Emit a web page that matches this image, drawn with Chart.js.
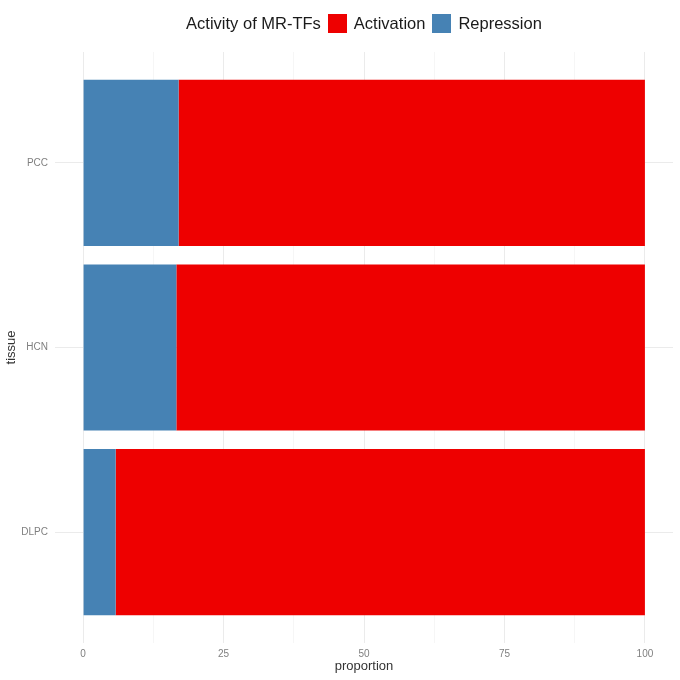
<!DOCTYPE html>
<html>
<head>
<meta charset="utf-8">
<script src="https://cdn.jsdelivr.net/npm/chart.js@4.4.1/dist/chart.umd.min.js"></script>
<style>
  html, body { margin: 0; padding: 0; background: #fff; }
  #wrap { position: relative; width: 680px; height: 680px; }
  #legend {
    position: absolute; top: 13px; left: 55px; width: 618px; height: 20px;
    display: flex; justify-content: center; align-items: center;
    font-family: "Liberation Sans", Arial, sans-serif; font-size: 16.5px; color: #1a1a1a;
  }
  #legend .box { width: 19px; height: 19px; margin: 0 7px 0 7px; }
</style>
</head>
<body>
<div id="wrap">
  <canvas id="chart" width="680" height="680"></canvas>
  <div id="legend"></div>
</div>
<script>
// data (top to bottom)
const tissues = ['PCC', 'HCN', 'DLPC'];
const repression = [17.0, 16.6, 5.8];
const activation = [83.0, 83.4, 94.2];
const xTicks = [0, 12.5, 25, 37.5, 50, 62.5, 75, 87.5, 100];

const colors = { Activation: '#EE0000', Repression: '#4682B4' };

// html legend, same order as ggplot
const legend = document.getElementById('legend');
legend.innerHTML = '<span>Activity of MR-TFs</span>' +
    Object.keys(colors).map(k =>
        `<span class="box" style="background:${colors[k]}"></span><span>${k}</span>`
    ).join('');

// y positions: top category gets the largest value
const ypos = tissues.map((t, i) => tissues.length - i);

const ctx = document.getElementById('chart').getContext('2d');
new Chart(ctx, {
    type: 'bar',
    data: {
        datasets: [
            {
                label: 'Repression',
                data: repression.map((v, i) => ({ x: v, y: ypos[i] })),
                backgroundColor: colors.Repression
            },
            {
                label: 'Activation',
                data: activation.map((v, i) => ({ x: v, y: ypos[i] })),
                backgroundColor: colors.Activation
            }
        ]
    },
    options: {
        indexAxis: 'y',
        responsive: false,
        animation: false,
        layout: { padding: { top: 52, right: 7, left: 0, bottom: 0 } },
        datasets: { bar: { barPercentage: 0.9, categoryPercentage: 1, borderWidth: 0 } },
        plugins: { legend: { display: false }, tooltip: { enabled: false } },
        scales: {
            x: {
                type: 'linear', stacked: true, min: -5, max: 105,
                afterBuildTicks: axis => { axis.ticks = xTicks.map(v => ({ value: v })); },
                afterFit: axis => { axis.height = 37; },
                border: { display: false },
                grid: {
                    drawTicks: false,
                    color: c => (c.tick && c.tick.value % 25 === 0) ? '#EBEBEB' : '#F4F4F4',
                    lineWidth: c => (c.tick && c.tick.value % 25 === 0) ? 1 : 0.8
                },
                ticks: {
                    padding: 5,
                    color: '#7F7F7F',
                    font: { family: 'Liberation Sans', size: 10 },
                    callback: v => v % 25 === 0 ? v : ''
                },
                title: {
                    display: true, text: 'proportion', color: '#333333', padding: { top: 0, bottom: 6 },
                    font: { family: 'Liberation Sans', size: 13 }
                }
            },
            y: {
                type: 'linear', stacked: true, min: 0.4, max: 3.6, offset: false,
                afterBuildTicks: axis => { axis.ticks = ypos.map(v => ({ value: v })); },
                afterFit: axis => { axis.width = 55; },
                border: { display: false },
                grid: { drawTicks: false, offset: false, color: '#EBEBEB', lineWidth: 1 },
                ticks: {
                    padding: 7,
                    color: '#7F7F7F',
                    font: { family: 'Liberation Sans', size: 10 },
                    callback: v => tissues[tissues.length - v]
                },
                title: {
                    display: true, text: 'tissue', color: '#333333', padding: { top: 4, bottom: 0 },
                    font: { family: 'Liberation Sans', size: 13 }
                }
            }
        }
    }
});
</script>
</body>
</html>
